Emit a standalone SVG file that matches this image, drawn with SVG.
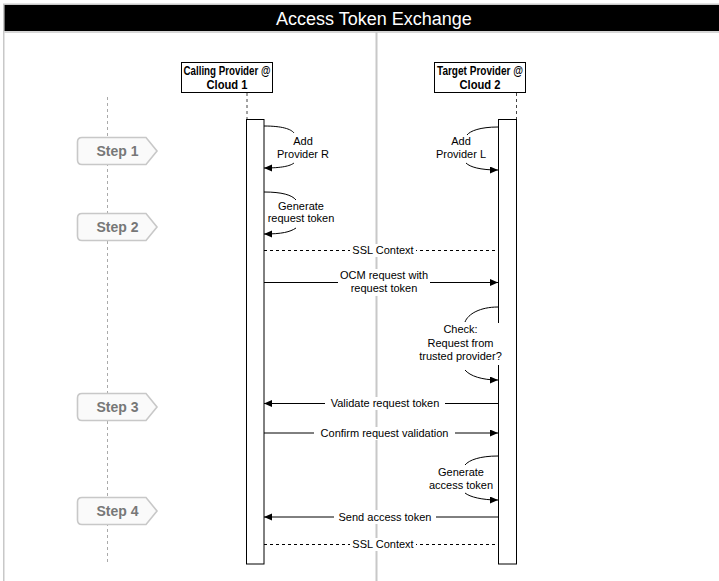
<svg xmlns="http://www.w3.org/2000/svg" width="719" height="581" viewBox="0 0 719 581">
<defs>
<marker id="arr" markerUnits="userSpaceOnUse" markerWidth="9" markerHeight="8" refX="8" refY="3.5" orient="auto">
<path d="M0,0 L8,3.5 L0,7 Z" fill="#000"/>
</marker>
<style>
.t{font-family:"Liberation Sans",Arial,sans-serif;font-size:11px;fill:#000;text-anchor:middle}
.hd{font-family:"Liberation Sans",Arial,sans-serif;font-size:12px;font-weight:bold;fill:#000;text-anchor:middle}
.st{font-family:"Liberation Sans",Arial,sans-serif;font-size:14px;font-weight:bold;fill:#777;text-anchor:middle}
.step{fill:#fafafa;stroke:#c8c8c8;stroke-width:1.6}
.msg{fill:none;stroke:#000;stroke-width:1;marker-end:url(#arr)}
.ssl{fill:none;stroke:#000;stroke-width:1;stroke-dasharray:3 3}
.bg{fill:#fff}
.act{fill:#fff;stroke:#000;stroke-width:1}
.life{fill:none;stroke:#444;stroke-width:1;stroke-dasharray:3 3}
</style>
</defs>
<g id="frame">
<rect x="0" y="0" width="719" height="581" fill="#fff"/>
<line x1="3.75" y1="4" x2="3.75" y2="581" stroke="#c8c8c8" stroke-width="1.5"/>
<line x1="3" y1="4.25" x2="719" y2="4.25" stroke="#c8c8c8" stroke-width="1.5"/>
<rect x="4.5" y="5" width="714.5" height="26" fill="#000"/>
<line x1="4.5" y1="32" x2="719" y2="32" stroke="#c8c8c8" stroke-width="1.5"/>
<text x="374" y="24.5" style="font-family:'Liberation Sans',Arial,sans-serif;font-size:18px;fill:#fff;text-anchor:middle">Access Token Exchange</text>
<line x1="376.5" y1="32" x2="376.5" y2="581" stroke="#c8c8c8" stroke-width="2"/>
</g>
<g id="steps">
<line x1="107.5" y1="97" x2="107.5" y2="563" stroke="#aaa" stroke-width="1" stroke-dasharray="3 3"/>
<g id="step1"><path class="step" d="M82,137.5 H146 L157,151 L146,164.5 H82 Q77.5,164.5 77.5,160 V142 Q77.5,137.5 82,137.5 Z"/><text class="st" x="117.5" y="156">Step 1</text></g>
<g id="step2"><path class="step" d="M82,213.5 H146 L157,227 L146,240.5 H82 Q77.5,240.5 77.5,236 V218 Q77.5,213.5 82,213.5 Z"/><text class="st" x="117.5" y="232">Step 2</text></g>
<g id="step3"><path class="step" d="M82,393.5 H146 L157,407 L146,420.5 H82 Q77.5,420.5 77.5,416 V398 Q77.5,393.5 82,393.5 Z"/><text class="st" x="117.5" y="412">Step 3</text></g>
<g id="step4"><path class="step" d="M82,497.5 H146 L157,511 L146,524.5 H82 Q77.5,524.5 77.5,520 V502 Q77.5,497.5 82,497.5 Z"/><text class="st" x="117.5" y="516">Step 4</text></g>
</g>
<g id="calling">
<rect x="181.5" y="62.5" width="91" height="30" fill="#fff" stroke="#000"/>
<text class="hd" x="227" y="75" textLength="87" lengthAdjust="spacingAndGlyphs">Calling Provider @</text>
<text class="hd" x="227" y="88.5" textLength="41" lengthAdjust="spacingAndGlyphs">Cloud 1</text>
<line class="life" x1="247" y1="93" x2="247" y2="119"/>
<rect class="act" x="246.5" y="119.5" width="17.5" height="444.5"/>
</g>
<g id="target">
<rect x="434.5" y="62.5" width="91" height="30" fill="#fff" stroke="#000"/>
<text class="hd" x="480" y="75" textLength="86" lengthAdjust="spacingAndGlyphs">Target Provider @</text>
<text class="hd" x="480" y="88.5" textLength="41" lengthAdjust="spacingAndGlyphs">Cloud 2</text>
<line class="life" x1="516.5" y1="93" x2="516.5" y2="119"/>
<rect class="act" x="498.5" y="119.5" width="18" height="444.5"/>
</g>
<g id="connectors">
<path class="msg" style="marker-end:none" d="M264,126 C282,126 291,129 294,133"/>
<path class="msg" d="M294,163 C290,166 282,168 264,168"/>
<path class="msg" style="marker-end:none" d="M264,192 C282,192 292,195 296,200"/>
<path class="msg" d="M296,228 C290,232 282,234 264,234"/>
<path class="msg" style="marker-end:none" d="M498,127 C480,127 470,131 467,135"/>
<path class="msg" d="M466,163 C470,167 480,170 498,170"/>
<line class="ssl" x1="264" y1="250.5" x2="498" y2="250.5"/>
<line class="msg" x1="264" y1="282.5" x2="498" y2="282.5"/>
<path class="msg" style="marker-end:none" d="M498,307 C480,307 468,314 465,322"/>
<path class="msg" d="M465,370 C470,376 482,380 498,380"/>
<line class="msg" x1="498" y1="403.5" x2="264" y2="403.5"/>
<line class="msg" x1="264" y1="433" x2="498" y2="433"/>
<path class="msg" style="marker-end:none" d="M498,456 C480,456 469,460 465,465"/>
<path class="msg" d="M465,493 C470,497 482,500 498,500"/>
<line class="msg" x1="498" y1="517" x2="264" y2="517"/>
<line class="ssl" x1="264" y1="544.5" x2="498" y2="544.5"/>
</g>
<g id="labels">
<text class="t" x="303" y="145">Add</text>
<text class="t" x="303" y="158">Provider R</text>
<text class="t" x="301" y="210">Generate</text>
<text class="t" x="301" y="222">request token</text>
<text class="t" x="461" y="145">Add</text>
<text class="t" x="461" y="158">Provider L</text>
<rect class="bg" x="350" y="244" width="66" height="13"/>
<text class="t" x="383" y="254">SSL Context</text>
<rect class="bg" x="338" y="269" width="92" height="27"/>
<text class="t" x="384" y="279">OCM request with</text>
<text class="t" x="384" y="292">request token</text>
<rect class="bg" x="418" y="323" width="86" height="42"/>
<text class="t" x="460.5" y="333">Check:</text>
<text class="t" x="460.5" y="346.5">Request from</text>
<text class="t" x="460.5" y="360">trusted provider?</text>
<rect class="bg" x="325" y="397" width="120" height="13"/>
<text class="t" x="385" y="407">Validate request token</text>
<rect class="bg" x="314" y="427" width="141" height="13"/>
<text class="t" x="384.5" y="437">Confirm request validation</text>
<text class="t" x="461" y="476">Generate</text>
<text class="t" x="461" y="489">access token</text>
<rect class="bg" x="334" y="510" width="102" height="14"/>
<text class="t" x="385" y="520.5">Send access token</text>
<rect class="bg" x="350" y="538" width="66" height="13"/>
<text class="t" x="383" y="548">SSL Context</text>
</g>
</svg>
